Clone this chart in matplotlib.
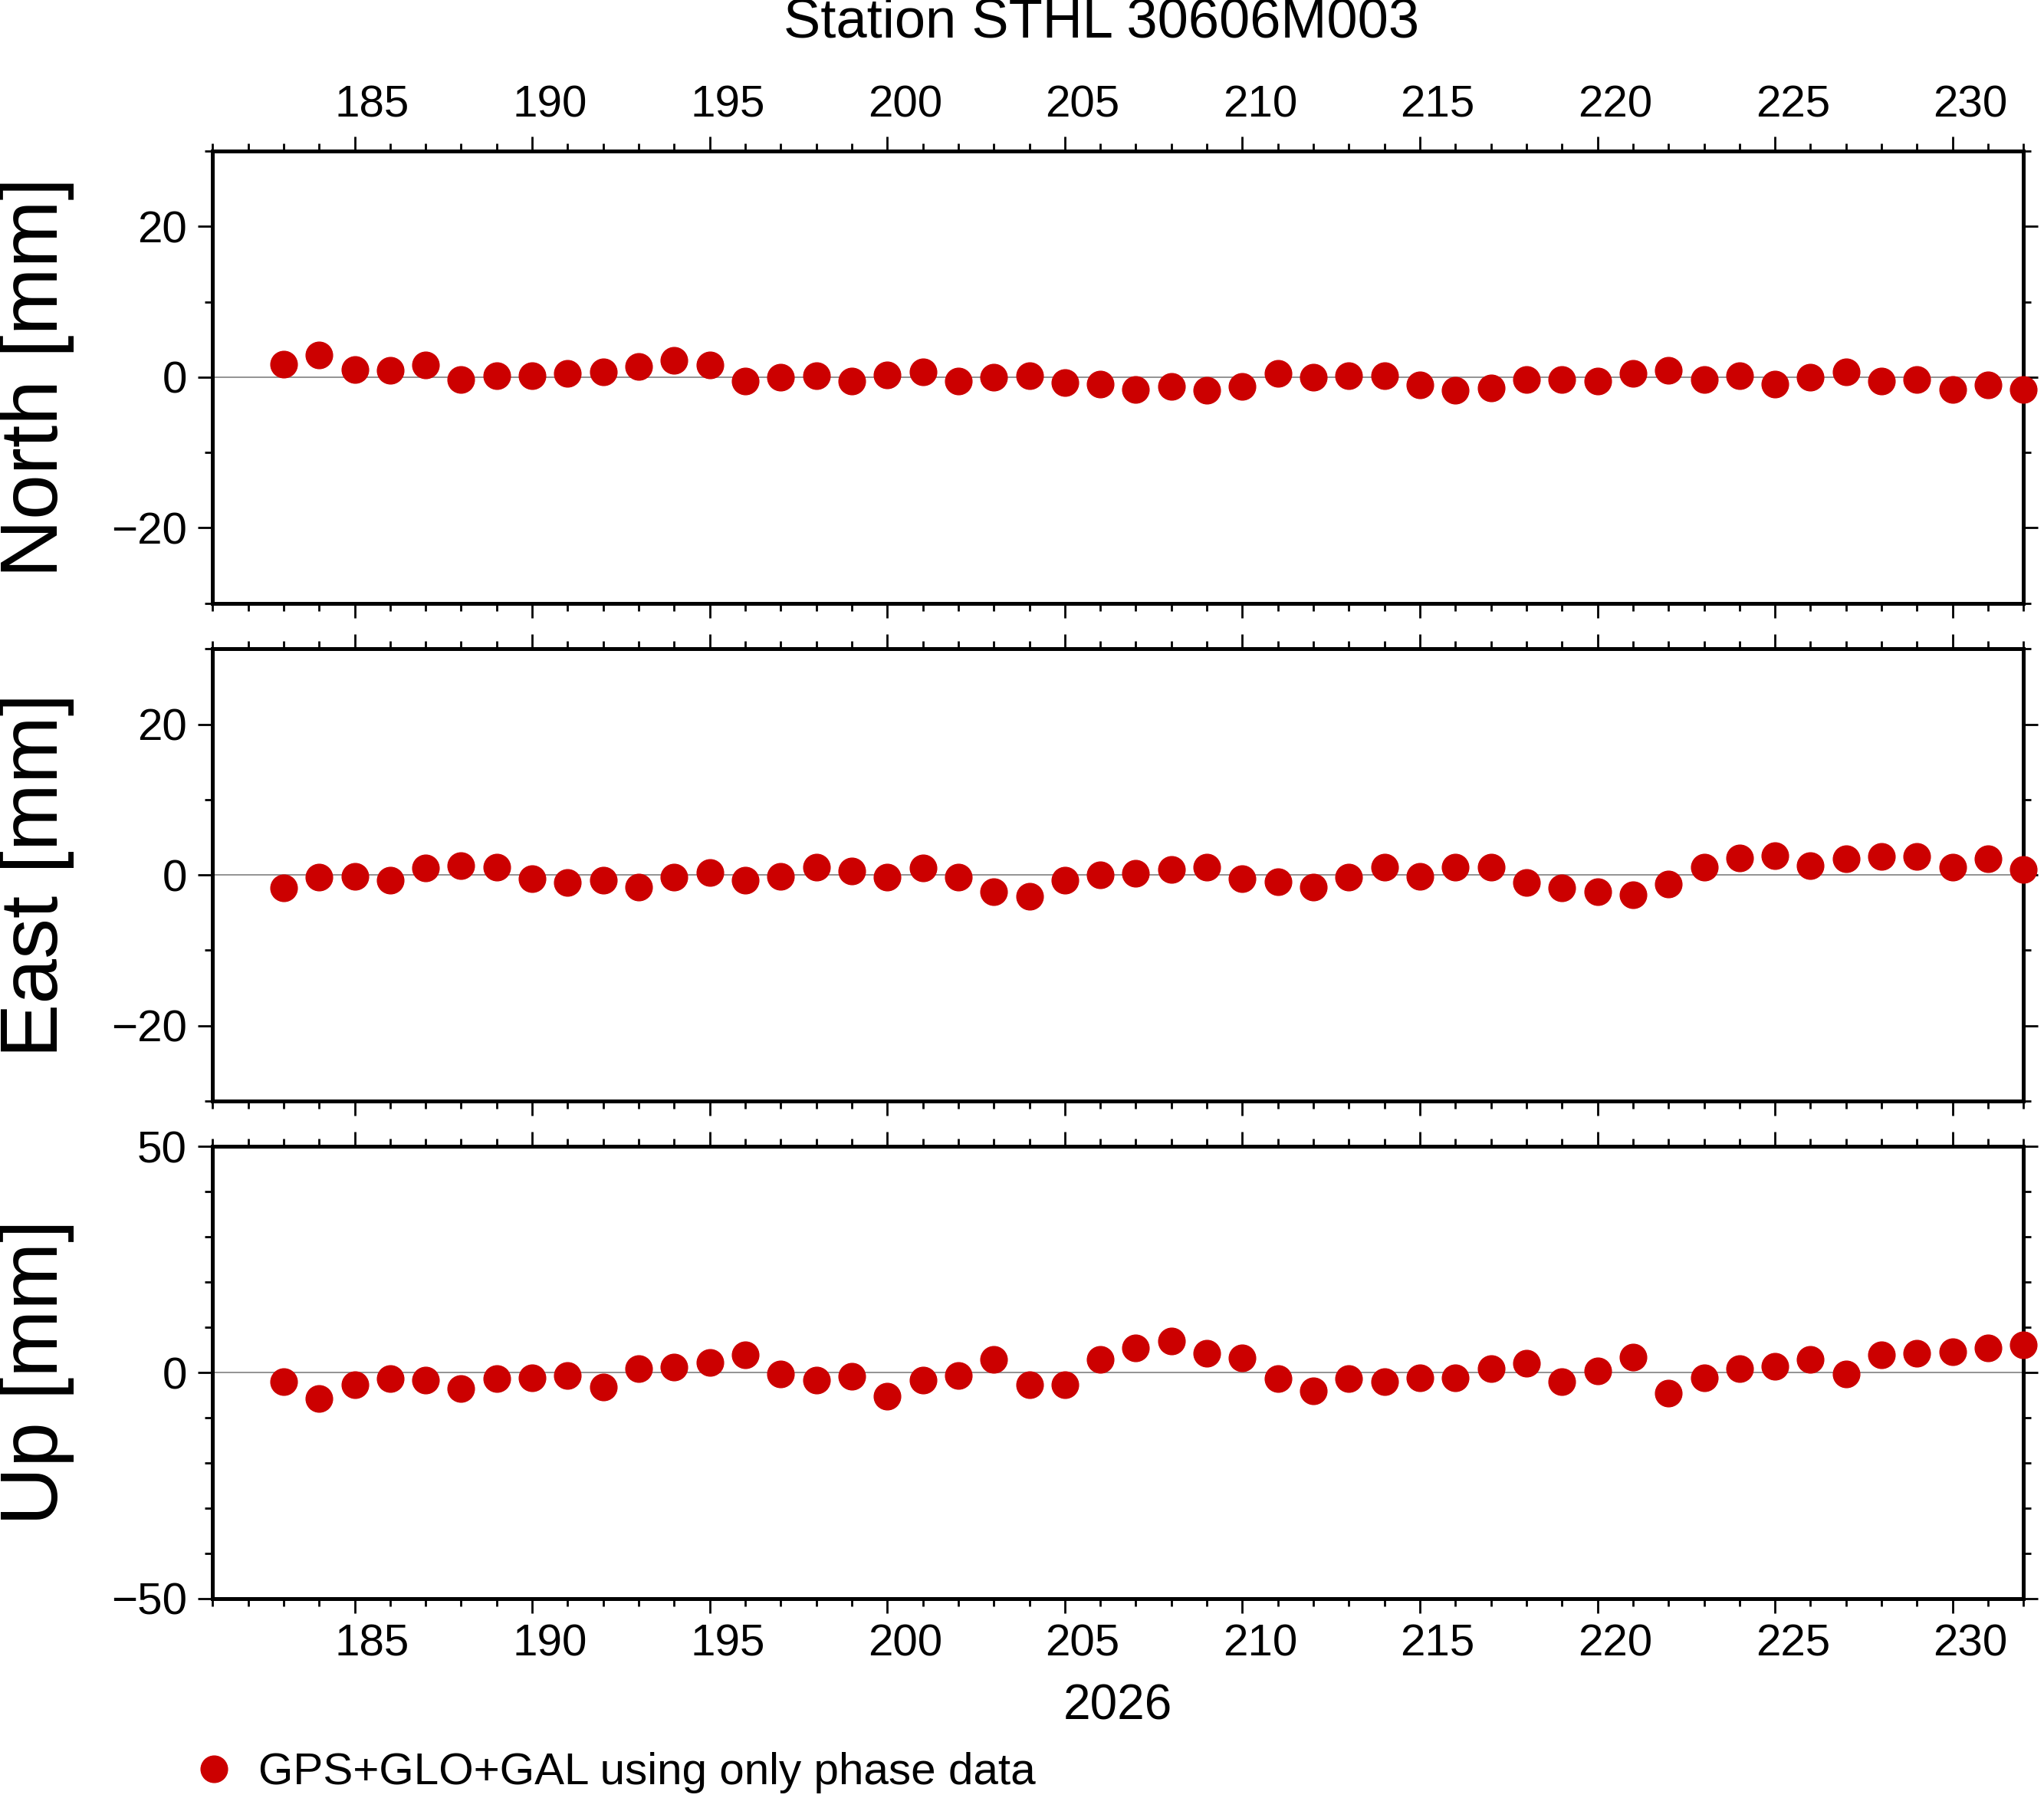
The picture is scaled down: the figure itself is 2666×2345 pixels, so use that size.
import matplotlib.pyplot as plt
from matplotlib.lines import Line2D
from matplotlib.ticker import MultipleLocator
import matplotlib.transforms as mtrans
import numpy as np

plt.rcParams['font.family'] = 'Liberation Sans'

days = np.arange(183, 233)
north = [1.7, 2.9, 1.0, 0.9, 1.6, -0.3, 0.2, 0.2, 0.5, 0.7,
         1.4, 2.2, 1.6, -0.5, 0.0, 0.2, -0.5, 0.3, 0.7, -0.5,
         0.0, 0.2, -0.7, -0.9, -1.6, -1.2, -1.7, -1.2, 0.5, 0.0,
         0.2, 0.2, -1.0, -1.7, -1.4, -0.3, -0.3, -0.5, 0.5, 0.9,
         -0.3, 0.2, -0.9, 0.0, 0.7, -0.5, -0.3, -1.6, -1.0, -1.6]
east = [-1.7, -0.3, -0.2, -0.7, 0.9, 1.2, 1.0, -0.5, -1.0, -0.7,
        -1.6, -0.3, 0.3, -0.7, -0.2, 1.0, 0.5, -0.3, 0.9, -0.3,
        -2.2, -2.8, -0.7, 0.0, 0.2, 0.7, 1.0, -0.5, -0.9, -1.6,
        -0.3, 1.0, -0.2, 1.0, 1.0, -1.0, -1.7, -2.2, -2.6, -1.2,
        1.0, 2.2, 2.6, 1.2, 2.1, 2.4, 2.4, 1.0, 2.1, 0.7]
up = [-2.0, -5.8, -2.6, -1.4, -1.7, -3.5, -1.4, -1.2, -0.6, -3.2,
      0.9, 1.2, 2.3, 4.0, -0.3, -1.7, -0.9, -5.2, -1.7, -0.6,
      2.9, -2.6, -2.6, 2.9, 5.5, 6.9, 4.3, 3.2, -1.4, -4.0,
      -1.4, -2.0, -1.2, -1.2, 0.9, 2.0, -2.0, 0.3, 3.5, -4.6,
      -1.2, 0.9, 1.4, 2.9, -0.3, 4.0, 4.3, 4.6, 5.5, 6.1]
xticks = np.arange(185, 231, 5)

red = '#cc0000'
fig = plt.figure(figsize=(26.66, 23.45), dpi=100)
panels = [
    ([0.104, 0.6645, 0.886, 0.2515], north, 'North [mm]', 30, 20),
    ([0.104, 0.3877, 0.886, 0.2514], east, 'East [mm]', 30, 20),
    ([0.104, 0.1109, 0.886, 0.2514], up, 'Up [mm]', 50, 50),
]
for i, (rect, vals, lab, lim, major) in enumerate(panels):
    ax = fig.add_axes(rect)
    ax.axhline(0, color='gray', lw=1.2, zorder=1)
    ax.plot(days, vals, 'o', color=red, ms=25, clip_on=False, zorder=3)
    ax.set_xlim(181, 232)
    ax.set_ylim(-lim, lim)
    ax.yaxis.set_major_locator(MultipleLocator(major))
    ax.yaxis.set_minor_locator(MultipleLocator(10))
    ax.set_xticks(xticks)
    ax.xaxis.set_minor_locator(MultipleLocator(1))
    ax.set_xticklabels([])
    for s in ax.spines.values():
        s.set_linewidth(3.6)
    ax.tick_params(which='both', direction='out', top=True, right=True, width=2)
    ax.tick_params(which='major', length=14, labelsize=42, pad=10)
    ax.tick_params(which='minor', length=7)
    ax.tick_params(axis='y', labelright=False)
    fig.text(0.018, rect[1] + rect[3] / 2, lab, rotation=90, fontsize=76,
             ha='center', va='center')
    trans = mtrans.blended_transform_factory(ax.transData, ax.transAxes)
    if i == 0:
        for t in xticks:
            ax.text(t + 0.5, 1.055, str(t), transform=trans, fontsize=42,
                    ha='center', va='bottom')
    if i == 2:
        for t in xticks:
            ax.text(t + 0.5, -0.055, str(t), transform=trans, fontsize=42,
                    ha='center', va='top')

fig.text(0.547, 0.051, '2026', fontsize=46, ha='center', va='center')
fig.text(0.539, 0.987, 'Station STHL 30606M003', fontsize=52, ha='center', va='center')
h = Line2D([0], [0], marker='o', color=red, ls='', ms=25)
fig.legend([h], ['GPS+GLO+GAL using only phase data'], loc='center left',
           bbox_to_anchor=(0.085, 0.014), frameon=False, fontsize=42,
           handlelength=1.0, handletextpad=0.5, borderaxespad=0)
fig.savefig('out.png', dpi=100)
